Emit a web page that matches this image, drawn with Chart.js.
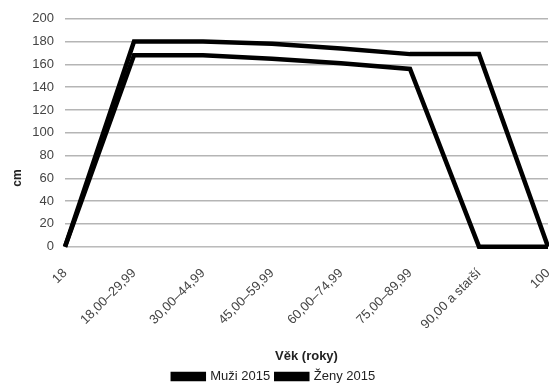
<!DOCTYPE html>
<html>
<head>
<meta charset="utf-8">
<script src="https://cdn.jsdelivr.net/npm/chart.js@4"></script>
<style>
  html, body { margin: 0; padding: 0; background: #fff; overflow: hidden; }
  #wrap { width: 549px; height: 385px; }
</style>
</head>
<body>
<div id="wrap"><canvas id="lineChart"></canvas></div>
<script>
const ageGroups = ['18', '18,00–29,99', '30,00–44,99', '45,00–59,99', '60,00–74,99', '75,00–89,99', '90,00 a starší', '100'];
const men2015 = [0, 180, 180, 178, 174, 169, 169, 0];
const women2015 = [0, 168, 168, 165, 161, 156, 0, 0];
const yTicks = [0, 20, 40, 60, 80, 100, 120, 140, 160, 180, 200];

const font = "'Liberation Sans', Arial, sans-serif";

// y axis title sits lower than the axis middle in the original
const yTitle = {
  id: 'yTitle',
  afterDraw(chart) {
    const ctx = chart.ctx;
    ctx.save();
    ctx.translate(18, 178);
    ctx.rotate(-Math.PI / 2);
    ctx.font = 'bold 12px ' + font;
    ctx.fillStyle = '#222';
    ctx.textAlign = 'center';
    ctx.textBaseline = 'middle';
    ctx.fillText('cm', 0, 0);
    ctx.restore();
  }
};

new Chart(document.getElementById('lineChart'), {
  type: 'line',
  data: {
    labels: ageGroups,
    datasets: [
      {
        label: 'Muži 2015',
        data: men2015,
        borderColor: '#000',
        backgroundColor: '#000',
        borderWidth: 4.5,
        pointRadius: 0,
        tension: 0,
        clip: false
      },
      {
        label: 'Ženy 2015',
        data: women2015,
        borderColor: '#000',
        backgroundColor: '#000',
        borderWidth: 4.5,
        pointRadius: 0,
        tension: 0,
        clip: false
      }
    ]
  },
  options: {
    responsive: true,
    maintainAspectRatio: false,
    animation: false,
    layout: { padding: { top: 10, right: 1, left: 0, bottom: -8 } },
    plugins: {
      tooltip: { enabled: false },
      legend: {
        position: 'bottom',
        labels: {
          boxWidth: 31,
          boxHeight: 5,
          padding: 6,
          color: '#222',
          font: { family: font, size: 13 }
        }
      }
    },
    scales: {
      x: {
        offset: false,
        afterFit: axis => { axis.paddingRight = 0; },
        grid: { display: false },
        border: { color: '#bbb', width: 1 },
        ticks: {
          minRotation: 45,
          maxRotation: 45,
          color: '#444',
          font: { family: font, size: 13 },
          padding: 11
        },
        title: {
          display: true,
          text: 'Věk (roky)',
          color: '#222',
          font: { family: font, size: 13, weight: 'bold' },
          padding: { top: 5, bottom: 0 }
        }
      },
      y: {
        min: 0,
        max: 200,
        afterBuildTicks: axis => { axis.ticks = yTicks.map(v => ({ value: v })); },
        afterFit: axis => { axis.width = 65; },
        grid: { color: '#b5b5b5', lineWidth: 1.5, drawTicks: false },
        border: { display: false },
        ticks: {
          color: '#444',
          font: { family: font, size: 13 },
          padding: 11
        }
      }
    }
  },
  plugins: [yTitle]
});
</script>
</body>
</html>
